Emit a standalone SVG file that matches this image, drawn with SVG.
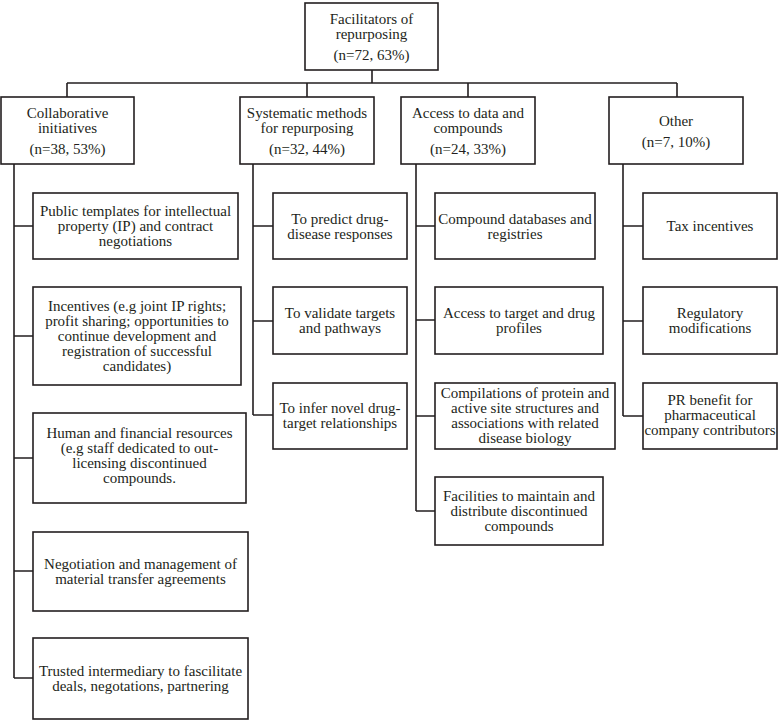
<svg xmlns="http://www.w3.org/2000/svg" width="780" height="721" viewBox="0 0 780 721">
<style>
rect{fill:#fff;stroke:#231f20;stroke-width:1.6}
text{font-family:"Liberation Serif","Times New Roman",serif;font-size:15px;fill:#231f20;text-anchor:middle}
.c{fill:none;stroke:#231f20;stroke-width:1.6}
</style>
<rect x="0" y="0" width="780" height="721" style="stroke:none"/>
<g id="connectors" class="c">
<path d="M372 70V83M67 83H677M67 83V97M307 83V97M468 83V97M677 83V97"/>
<path d="M14 164V678M14 226H33M14 336H33M14 458H33M14 571H33M14 678H33"/>
<path d="M253 164V415M253 226H273M253 321H273M253 415H273"/>
<path d="M416 164V511M416 226H435M416 320H435M416 416H435M416 511H435"/>
<path d="M623 164V416M623 226H643M623 321H643M623 416H643"/>
</g>
<g id="root"><rect x="305" y="3" width="133" height="67"/>
<text x="371.5" y="24">Facilitators of</text><text x="371.5" y="39">repurposing</text><text x="371.5" y="60">(n=72, 63%)</text></g>
<g id="collab"><rect x="1" y="97" width="133" height="67"/>
<text x="67.5" y="118">Collaborative</text><text x="67.5" y="133">initiatives</text><text x="67.5" y="154">(n=38, 53%)</text></g>
<g id="systematic"><rect x="240" y="97" width="134" height="67"/>
<text x="307" y="118">Systematic methods</text><text x="307" y="133">for repurposing</text><text x="307" y="154">(n=32, 44%)</text></g>
<g id="access"><rect x="401" y="97" width="134" height="67"/>
<text x="468" y="118">Access to data and</text><text x="468" y="133">compounds</text><text x="468" y="154">(n=24, 33%)</text></g>
<g id="other"><rect x="609" y="97" width="134" height="67"/>
<text x="676" y="126">Other</text><text x="676" y="147">(n=7, 10%)</text></g>

<g id="c1"><rect x="33" y="193" width="205" height="66"/>
<text x="135.5" y="216">Public templates for intellectual</text><text x="135.5" y="231">property (IP) and contract</text><text x="135.5" y="246">negotiations</text></g>
<g id="c2"><rect x="33" y="287" width="208" height="98"/>
<text x="137" y="311">Incentives (e.g joint IP rights;</text><text x="137" y="326">profit sharing; opportunities to</text><text x="137" y="341">continue development and</text><text x="137" y="356">registration of successful</text><text x="137" y="371">candidates)</text></g>
<g id="c3"><rect x="33" y="413" width="213" height="90"/>
<text x="139.5" y="438">Human and financial resources</text><text x="139.5" y="453">(e.g staff dedicated to out-</text><text x="139.5" y="468">licensing discontinued</text><text x="139.5" y="483">compounds.</text></g>
<g id="c4"><rect x="33" y="532" width="215" height="79"/>
<text x="140.5" y="569">Negotiation and management of</text><text x="140.5" y="584">material transfer agreements</text></g>
<g id="c5"><rect x="33" y="638" width="215" height="81"/>
<text x="140.5" y="676">Trusted intermediary to fascilitate</text><text x="140.5" y="691">deals, negotations, partnering</text></g>

<g id="s1"><rect x="273" y="193" width="134" height="66"/>
<text x="340" y="224">To predict drug-</text><text x="340" y="239">disease responses</text></g>
<g id="s2"><rect x="273" y="287" width="134" height="67"/>
<text x="340" y="318">To validate targets</text><text x="340" y="333">and pathways</text></g>
<g id="s3"><rect x="273" y="383" width="134" height="66"/>
<text x="340" y="413">To infer novel drug-</text><text x="340" y="428">target relationships</text></g>

<g id="a1"><rect x="435" y="193" width="160" height="66"/>
<text x="515" y="224">Compound databases and</text><text x="515" y="239">registries</text></g>
<g id="a2"><rect x="435" y="287" width="168" height="67"/>
<text x="519" y="318">Access to target and drug</text><text x="519" y="333">profiles</text></g>
<g id="a3"><rect x="435" y="383" width="180" height="66"/>
<text x="525" y="398">Compilations of protein and</text><text x="525" y="413">active site structures and</text><text x="525" y="428">associations with related</text><text x="525" y="443">disease biology</text></g>
<g id="a4"><rect x="435" y="477" width="168" height="68"/>
<text x="519" y="501">Facilities to maintain and</text><text x="519" y="516">distribute discontinued</text><text x="519" y="531">compounds</text></g>

<g id="o1"><rect x="643" y="193" width="134" height="66"/>
<text x="710" y="231">Tax incentives</text></g>
<g id="o2"><rect x="643" y="287" width="134" height="67"/>
<text x="710" y="318">Regulatory</text><text x="710" y="333">modifications</text></g>
<g id="o3"><rect x="643" y="383" width="134" height="66"/>
<text x="710" y="405">PR benefit for</text><text x="710" y="420">pharmaceutical</text><text x="710" y="435">company contributors</text></g>
</svg>
